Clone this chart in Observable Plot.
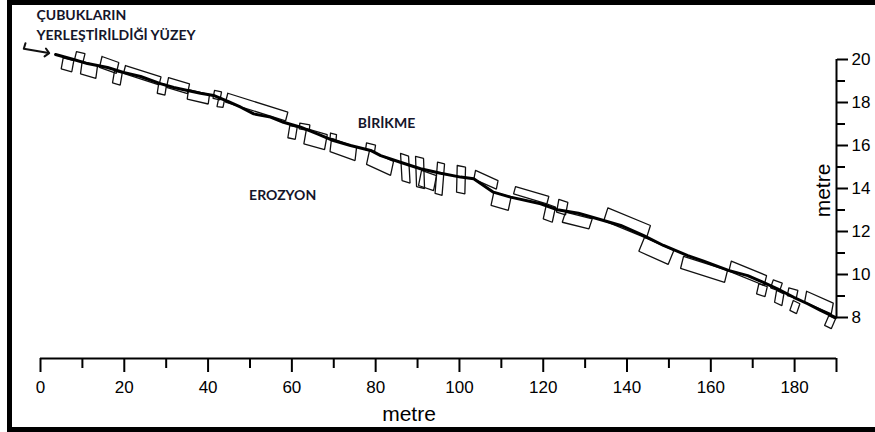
<!DOCTYPE html>
<html><head><meta charset="utf-8">
<script src="https://cdn.jsdelivr.net/npm/d3@7"></script>
<script src="https://cdn.jsdelivr.net/npm/@observablehq/plot@0.6"></script>
<style>
html,body{margin:0;padding:0;background:#fff;}
#wrap{position:relative;width:875px;height:432px;overflow:hidden;background:#fff;}
#wrap svg{position:absolute;left:0;top:0;}
#border{position:absolute;left:7px;top:0;width:876px;height:432px;box-sizing:border-box;border:5px solid #000;pointer-events:none;}
</style></head><body>
<div id="wrap"><div id="border"></div></div>
<script>
// Ground surface profile (metre along slope, metre elevation)
const profileX = [3.6, 7.9, 11.2, 16.0, 19.8, 23.9, 28.6, 31.8, 35.1, 38.2, 41.3, 44.6, 47.8, 50.9, 54.9, 58.0, 62.1, 66.1, 69.9, 74.0, 78.8, 81.2, 85.9, 90.7, 95.5, 100.3, 103.4, 108.1, 112.2, 119.4, 123.4, 128.4, 134.4, 138.5, 144.0, 148.7, 154.5, 158.3, 164.2, 168.8, 172.4, 175.9, 179.8, 183.1, 186.2, 189.8];
const profileY = [20.23, 20.00, 19.81, 19.63, 19.40, 19.21, 18.88, 18.70, 18.56, 18.43, 18.33, 18.06, 17.78, 17.47, 17.32, 17.08, 16.85, 16.54, 16.23, 16.00, 15.77, 15.53, 15.22, 14.92, 14.71, 14.53, 14.45, 13.83, 13.60, 13.29, 13.01, 12.85, 12.51, 12.28, 11.81, 11.35, 10.88, 10.62, 10.19, 9.95, 9.64, 9.33, 8.94, 8.64, 8.33, 7.99];

// Erosion / deposition boxes: corner A (top-left), B (top-right), C (bottom-left)
const boxAx = [5.42, 8.59, 9.95, 14.68, 17.67, 20.29, 28.24, 30.56, 35.33, 41.54, 42.49, 44.71, 59.51, 61.90, 63.50, 69.23, 69.47, 77.82, 78.54, 85.94, 89.52, 90.95, 94.77, 99.47, 103.84, 108.21, 113.39, 120.79, 123.73, 125.33, 135.43, 144.19, 153.49, 164.89, 171.47, 174.91, 175.70, 178.63, 179.68, 182.86, 188.18];
const boxAy = [20.08, 20.37, 19.91, 20.14, 19.47, 19.72, 18.91, 19.16, 18.60, 18.56, 18.16, 18.43, 16.93, 17.04, 16.78, 16.58, 16.33, 16.12, 15.77, 15.63, 15.49, 14.84, 15.23, 15.07, 14.84, 13.83, 14.09, 13.29, 13.49, 12.90, 13.10, 11.73, 10.84, 10.62, 9.57, 9.75, 9.26, 9.38, 8.79, 9.22, 8.09];
const boxBx = [7.95, 10.62, 13.61, 18.69, 19.50, 28.77, 30.08, 35.57, 40.34, 43.21, 43.92, 59.04, 61.28, 64.29, 68.44, 70.66, 75.44, 79.97, 84.27, 87.85, 91.43, 94.53, 96.44, 101.45, 109.21, 112.32, 121.34, 122.94, 125.88, 131.70, 145.59, 151.18, 163.99, 173.31, 173.48, 177.06, 177.44, 180.78, 181.26, 189.23, 189.78];
const boxBy = [19.95, 20.27, 19.70, 19.86, 19.37, 19.19, 18.82, 18.87, 18.37, 18.49, 18.12, 17.55, 16.86, 16.96, 16.51, 16.51, 15.91, 16.02, 15.26, 15.51, 15.40, 14.60, 15.14, 14.99, 14.37, 13.60, 13.63, 13.13, 13.36, 12.59, 12.28, 11.12, 10.19, 9.95, 9.44, 9.60, 9.10, 9.26, 8.64, 8.67, 7.94];
const boxCx = [4.94, 8.12, 9.55, 14.08, 17.19, 19.81, 27.86, 30.08, 35.02, 41.18, 42.13, 44.16, 59.04, 61.76, 62.86, 69.11, 69.11, 77.59, 77.82, 86.30, 89.76, 90.24, 94.18, 99.31, 103.44, 107.54, 112.92, 120.00, 123.18, 124.54, 134.47, 142.82, 152.78, 164.31, 170.92, 174.27, 175.22, 178.25, 178.87, 182.38, 187.15];
const boxCy = [19.56, 19.99, 19.33, 19.63, 18.91, 19.35, 18.43, 18.70, 18.16, 18.19, 17.81, 18.02, 16.36, 16.77, 16.08, 16.33, 15.72, 15.81, 15.12, 14.37, 14.09, 14.14, 13.77, 13.83, 14.44, 13.21, 13.75, 12.59, 12.90, 12.43, 12.51, 11.08, 10.28, 10.16, 9.10, 9.38, 8.71, 9.02, 8.33, 8.72, 7.63];

// Axis ticks
const xMajorTicks = [0, 20, 40, 60, 80, 100, 120, 140, 160, 180];
const xMinorTicks = [10, 30, 50, 70, 90, 110, 130, 150, 170];
const xEndTick = [190];
const yMajorTicks = [8, 10, 12, 14, 16, 18, 20];
const yMinorTicks = [9, 11, 13, 15, 17, 19];

// Annotations
const zoneLabels = ["BİRİKME", "EROZYON"];
const zoneX = [82.6, 57.8];
const zoneY = [17.02, 13.67];
const surfaceLabel = "ÇUBUKLARIN\nYERLEŞTİRİLDİĞİ YÜZEY";
const arrowX = [-3.58, -3.99, 1.60];
const arrowY = [20.76, 20.50, 20.31];
const axisTitle = "metre";

const profile = profileX.map((x, i) => ({x, y: profileY[i]}));
const boxRows = [];
const nBoxes = Math.min(boxAx.length, boxAy.length, boxBx.length, boxBy.length, boxCx.length, boxCy.length);
for (let i = 0; i < nBoxes; i++) {
  const A = [boxAx[i], boxAy[i]], B = [boxBx[i], boxBy[i]], C = [boxCx[i], boxCy[i]];
  const D = [B[0] + C[0] - A[0], B[1] + C[1] - A[1]];
  for (const p of [A, B, D, C, A]) boxRows.push({id: i, x: p[0], y: p[1]});
}
const zones = zoneLabels.map((t, i) => ({t, x: zoneX[i], y: zoneY[i]}));
const arrow = arrowX.map((x, i) => ({x, y: arrowY[i]}));
const labelFont = "Lato, 'Open Sans', sans-serif";
const labelColor = "#15152a";

const chart = Plot.plot({
  width: 875, height: 432,
  marginLeft: 40, marginRight: 39, marginTop: 59, marginBottom: 115,
  x: {domain: [0, 190]},
  y: {domain: [8, 20]},
  style: {fontFamily: "'Liberation Sans', Arial, sans-serif", fontSize: "17px", color: "#000", background: "transparent", overflow: "visible"},
  marks: [
    // x axis (drawn below the frame)
    Plot.ruleY([8], {dy: 41, strokeWidth: 2}),
    Plot.axisX(xMajorTicks, {anchor: "bottom", dy: 41, tickSize: 14, tickPadding: 8, strokeWidth: 2, fontSize: 17, label: null, tickFormat: d => String(d)}),
    Plot.axisX(xMinorTicks, {anchor: "bottom", dy: 41, tickSize: 10, strokeWidth: 2, label: null, tickFormat: () => ""}),
    Plot.axisX(xEndTick, {anchor: "bottom", dy: 41, tickSize: 14, strokeWidth: 2, label: null, tickFormat: () => ""}),
    Plot.text([axisTitle], {frameAnchor: "bottom", dx: -29.5, dy: 103, textAnchor: "middle", lineAnchor: "bottom", fontSize: 21}),
    // y axis (right)
    Plot.ruleX([190], {y1: 8, y2: 20, strokeWidth: 2}),
    Plot.axisY(yMajorTicks, {anchor: "right", tickSize: 11, tickPadding: 4, strokeWidth: 2, fontSize: 17, label: null, tickFormat: d => String(d)}),
    Plot.axisY(yMinorTicks, {anchor: "right", tickSize: 8, strokeWidth: 2, label: null, tickFormat: () => ""}),
    Plot.text([axisTitle], {frameAnchor: "top-right", dx: -13, dy: 131, rotate: -90, textAnchor: "middle", lineAnchor: "middle", fontSize: 21}),
    // boxes
    Plot.line(boxRows, {x: "x", y: "y", z: "id", stroke: "#111", strokeWidth: 1.3, strokeLinejoin: "miter"}),
    // surface profile
    Plot.line(profile, {x: "x", y: "y", stroke: "#000", strokeWidth: 3, strokeLinejoin: "round", strokeLinecap: "round"}),
    // annotations
    Plot.text(zones, {x: "x", y: "y", text: "t", fontFamily: labelFont, fontWeight: 700, fontSize: 14, fill: labelColor}),
    Plot.text([surfaceLabel], {frameAnchor: "top-left", dx: -4, dy: -20, textAnchor: "start", lineAnchor: "bottom", lineHeight: 1.36, fontFamily: labelFont, fontWeight: 700, fontSize: 14, fill: labelColor}),
    Plot.line(arrow, {x: "x", y: "y", stroke: "#111", strokeWidth: 2, markerEnd: "arrow"})
  ]
});
const wrap = document.getElementById("wrap");
wrap.insertBefore(chart, wrap.firstChild);
</script>
</body></html>
